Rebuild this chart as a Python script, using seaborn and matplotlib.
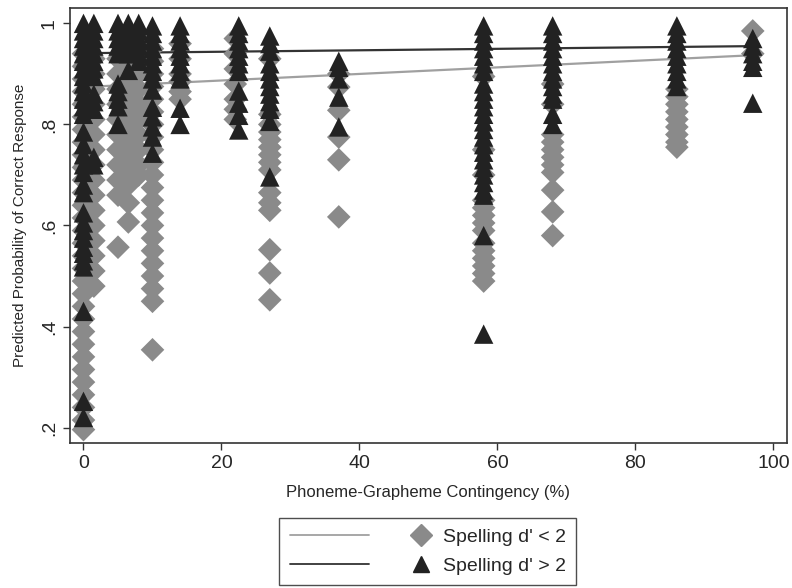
import pandas as pd
import matplotlib.pyplot as plt
import seaborn as sns
from matplotlib.lines import Line2D
from matplotlib.legend_handler import HandlerTuple

# Item columns (phoneme-grapheme contingency, %) and predicted probabilities
# --- Spelling d' < 2 (grey diamonds) ---
low_cols = [0, 1.5, 5, 6.5, 8, 10, 14, 22, 27, 37, 58, 68, 86, 97]
low_vals = [
    [0.94, 0.915, 0.89, 0.865, 0.84, 0.815, 0.79, 0.765, 0.74, 0.715, 0.69, 0.665,
     0.64, 0.615, 0.59, 0.565, 0.54, 0.515, 0.49, 0.465, 0.44, 0.415, 0.39, 0.365,
     0.34, 0.315, 0.29, 0.265, 0.24, 0.215, 0.196],
    [0.93, 0.90, 0.87, 0.84, 0.81, 0.78, 0.75, 0.72, 0.69, 0.66, 0.63, 0.60, 0.57,
     0.54, 0.51, 0.48],
    [0.93, 0.90, 0.87, 0.84, 0.81, 0.78, 0.75, 0.72, 0.69, 0.66, 0.557],
    [0.95, 0.92, 0.89, 0.86, 0.83, 0.80, 0.77, 0.74, 0.71, 0.68, 0.645, 0.607],
    [0.93, 0.90, 0.87, 0.84, 0.81, 0.78, 0.75, 0.72, 0.70],
    [0.95, 0.925, 0.90, 0.875, 0.85, 0.825, 0.80, 0.775, 0.75, 0.725, 0.70, 0.675,
     0.65, 0.625, 0.60, 0.575, 0.55, 0.525, 0.50, 0.475, 0.45, 0.354],
    [0.96, 0.93, 0.90, 0.885, 0.865, 0.85],
    [0.97, 0.94, 0.91, 0.88, 0.85, 0.83, 0.81],
    [0.93, 0.82, 0.80, 0.785, 0.77, 0.755, 0.74, 0.725, 0.71, 0.665, 0.645, 0.63,
     0.552, 0.506, 0.453],
    [0.90, 0.874, 0.828, 0.775, 0.73, 0.617],
    [0.895, 0.75, 0.70, 0.65, 0.635, 0.62, 0.605, 0.59, 0.565, 0.55, 0.535, 0.52,
     0.505, 0.49],
    [0.88, 0.84, 0.78, 0.765, 0.75, 0.735, 0.72, 0.705, 0.67, 0.627, 0.58],
    [0.87, 0.855, 0.84, 0.825, 0.81, 0.795, 0.78, 0.765, 0.755],
    [0.985, 0.94],
]

# --- Spelling d' > 2 (black triangles) ---
high_cols = [0, 1.5, 5, 6.5, 8, 10, 14, 22.5, 27, 37, 58, 68, 86, 97]
high_vals = [
    [1.0, 0.985, 0.97, 0.955, 0.94, 0.925, 0.91, 0.895, 0.88, 0.865, 0.85, 0.835,
     0.82, 0.785, 0.76, 0.74, 0.72, 0.705, 0.68, 0.665, 0.625, 0.605, 0.59, 0.575,
     0.557, 0.545, 0.53, 0.518, 0.43, 0.252, 0.22],
    [1.0, 0.985, 0.97, 0.955, 0.94, 0.925, 0.91, 0.895, 0.86, 0.845, 0.83, 0.735, 0.72],
    [1.0, 0.985, 0.97, 0.955, 0.94, 0.88, 0.865, 0.85, 0.835, 0.80],
    [1.0, 0.985, 0.97, 0.955, 0.94, 0.907],
    [1.0, 0.985, 0.97, 0.955, 0.94, 0.925],
    [0.995, 0.98, 0.965, 0.95, 0.935, 0.92, 0.905, 0.89, 0.868, 0.834, 0.815, 0.795,
     0.775, 0.743],
    [0.995, 0.98, 0.965, 0.95, 0.935, 0.92, 0.905, 0.89, 0.832, 0.80],
    [0.995, 0.98, 0.965, 0.95, 0.935, 0.92, 0.905, 0.866, 0.842, 0.818, 0.789],
    [0.975, 0.96, 0.945, 0.92, 0.905, 0.89, 0.875, 0.86, 0.845, 0.83, 0.806, 0.696],
    [0.925, 0.913, 0.89, 0.854, 0.795],
    [0.995, 0.98, 0.965, 0.95, 0.935, 0.92, 0.905, 0.88, 0.865, 0.85, 0.835, 0.82,
     0.805, 0.79, 0.775, 0.76, 0.745, 0.73, 0.715, 0.70, 0.685, 0.67, 0.66, 0.58, 0.385],
    [0.995, 0.98, 0.965, 0.95, 0.935, 0.92, 0.905, 0.89, 0.875, 0.86, 0.85, 0.82, 0.80],
    [0.995, 0.98, 0.965, 0.95, 0.935, 0.92, 0.905, 0.89, 0.875],
    [0.97, 0.955, 0.94, 0.925, 0.913, 0.842],
]

# fitted lines (endpoints of linear fit)
fit_x = [0, 97]
low_fit = [0.874, 0.937]
high_fit = [0.941, 0.955]

labels = ["Spelling d' < 2", "Spelling d' > 2"]


def to_frame(cols, vals):
    rows = [(c, v) for c, vs in zip(cols, vals) for v in vs]
    return pd.DataFrame(rows, columns=['x', 'y'])


low_df = to_frame(low_cols, low_vals)
high_df = to_frame(high_cols, high_vals)
fit_df = pd.DataFrame({'x': fit_x, 'low': low_fit, 'high': high_fit})

sns.set_style('white')
plt.rcParams['font.family'] = ['Liberation Sans', 'DejaVu Sans']

grey, dark = '#8a8a8a', '#222222'
line_grey, line_dark = '#a0a0a0', '#333333'

fig = plt.figure(figsize=(7.92, 5.88), dpi=100)
ax = fig.add_axes([0.088, 0.247, 0.906, 0.739])

sns.lineplot(data=fit_df, x='x', y='low', color=line_grey, lw=1.6, ax=ax, zorder=1)
sns.lineplot(data=fit_df, x='x', y='high', color=line_dark, lw=1.6, ax=ax, zorder=1)
sns.scatterplot(data=low_df, x='x', y='y', marker='D', s=145, color=grey,
                edgecolor='none', linewidth=0, ax=ax, zorder=2)
sns.scatterplot(data=high_df, x='x', y='y', marker='^', s=195, color=dark,
                edgecolor='none', linewidth=0, ax=ax, zorder=3)

ax.set_xlim(-2, 102)
ax.set_ylim(0.17, 1.03)
ax.set_xticks([0, 20, 40, 60, 80, 100])
ax.set_yticks([0.2, 0.4, 0.6, 0.8, 1.0])
ax.set_yticklabels(['.2', '.4', '.6', '.8', '1'], rotation=90, va='center')
ax.tick_params(axis='both', direction='out', length=5, width=1, color='#333333',
               labelsize=14, left=True, bottom=True)
ax.set_xlabel('Phoneme-Grapheme Contingency (%)', fontsize=12, labelpad=10)
ax.set_ylabel('Predicted Probability of Correct Response', fontsize=11, labelpad=10)
for sp in ax.spines.values():
    sp.set_color('#333333')
    sp.set_linewidth(1.2)

h_low = (Line2D([], [], color=line_grey, lw=1.3),
         Line2D([], [], marker='D', ls='none', color=grey, markersize=11))
h_high = (Line2D([], [], color=line_dark, lw=1.3),
          Line2D([], [], marker='^', ls='none', color=dark, markersize=12))
leg = fig.legend([h_low, h_high], labels, loc='center', bbox_to_anchor=(0.54, 0.062),
                 handler_map={tuple: HandlerTuple(ndivide=None, pad=0.6)},
                 handlelength=8.8, handletextpad=-0.93, fontsize=14, frameon=True,
                 fancybox=False, edgecolor='#222222', borderpad=0.55, labelspacing=0.55)
leg.get_frame().set_linewidth(1.0)

fig.savefig('out.png', dpi=100)
